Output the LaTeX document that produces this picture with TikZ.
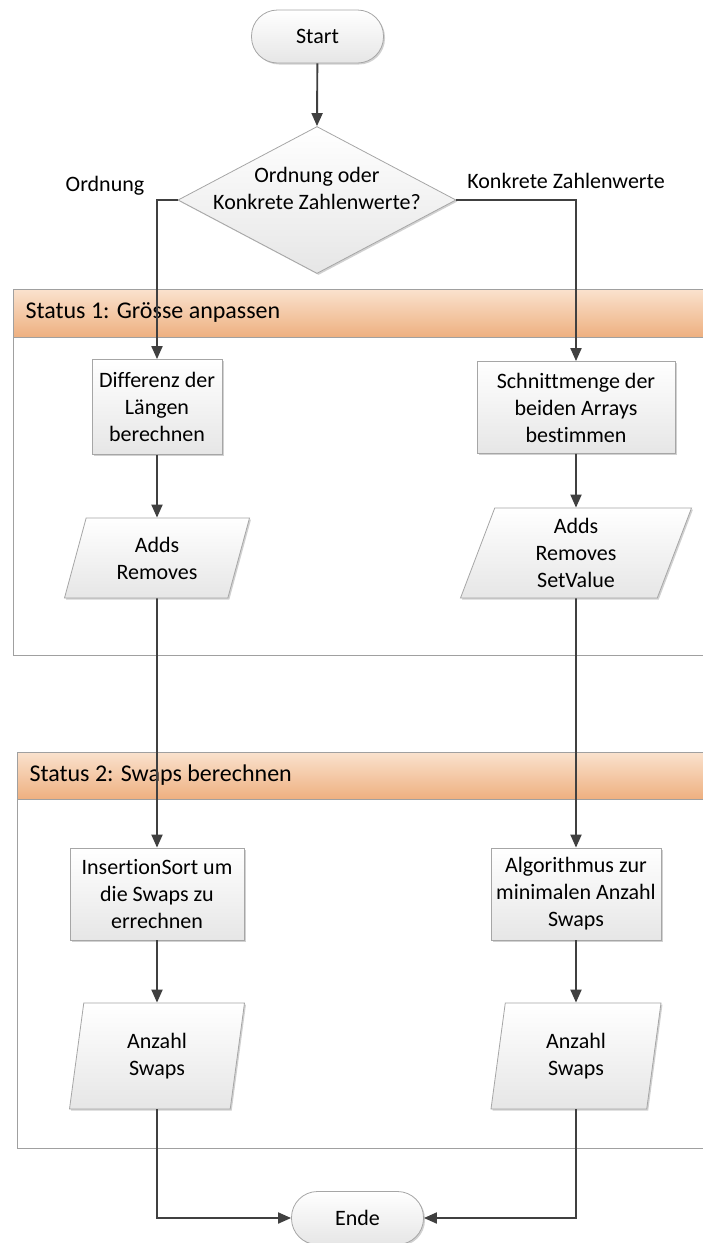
\documentclass[tikz,border=0pt]{standalone}
\usepackage{fontspec}
\setmainfont{Carlito}[Ligatures=NoCommon]
\usetikzlibrary{shapes.geometric,shadows,arrows.meta}
\definecolor{boxgray}{HTML}{A6A6A6}
\definecolor{boxbot}{HTML}{E6E6E6}
\definecolor{linegray}{HTML}{404040}
\definecolor{lanegray}{HTML}{A0A0A0}
\definecolor{headtop}{HTML}{FAE2CE}
\definecolor{headbot}{HTML}{EEB080}
\begin{document}
\begin{tikzpicture}[x=1pt,y=-1pt,
  font=\fontsize{22}{27}\selectfont,
  shade/.style={top color=white, bottom color=boxbot},
  shad/.style={drop shadow={shadow xshift=1.5pt, shadow yshift=-1.5pt, fill=black, opacity=0.18}},
  procbox/.style={draw=boxgray, line width=0.8pt, shade, shad, align=center, inner sep=3pt},
  term/.style={draw=boxgray, line width=0.8pt, shade, shad, rounded corners=26pt, minimum width=132pt, minimum height=53pt},
  iobox/.style={trapezium, trapezium stretches body, draw=boxgray, line width=0.8pt, shade, shad, align=center, inner sep=2pt},
  conn/.style={draw=linegray, line width=1.9pt, -{Triangle[length=13pt,width=11pt]}},
  lane/.style={draw=lanegray, line width=0.8pt, fill=white},
  lanehead/.style={draw=lanegray, line width=0.8pt, top color=headtop, bottom color=headbot},
  lanetext/.style={anchor=west, font=\fontsize{24}{28}\selectfont}
]
\useasboundingbox (0,0) rectangle (703,1243);
\clip (0,0) rectangle (703,1243);

% swimlanes
\draw[lane] (13,289) rectangle (712,655);
\draw[lanehead] (13,289) rectangle (712,337);
\node[lanetext] (lane1) at (22,312) {Status 1: Grösse anpassen};
\draw[lane] (17,752) rectangle (712,1148);
\draw[lanehead] (17,752) rectangle (712,799);
\node[lanetext] (lane2) at (26,775) {Status 2: Swaps berechnen};

% nodes
\node[term] (start) at (317.5,36.5) {Start};
\node[diamond, draw=boxgray, line width=0.8pt, shade, shad, minimum width=278pt, minimum height=147pt, inner sep=0pt] (dec) at (317,200) {};
\node[align=center] (dectext) at (317,188) {Ordnung oder\\Konkrete Zahlenwerte?};
\node (lord) at (105,186) {Ordnung};
\node (lkon) at (566,181) {Konkrete Zahlenwerte};

\node[procbox, minimum width=130pt, minimum height=95pt] (diff) at (157,407) {Differenz der\\Längen\\berechnen};
\node[procbox, minimum width=198pt, minimum height=92pt] (schnitt) at (576,407.5) {Schnittmenge der\\beiden Arrays\\bestimmen};

\node[iobox, trapezium left angle=65, trapezium right angle=115, minimum width=185pt, minimum height=80pt] (io1) at (157,558) {Adds\\Removes};
\node[iobox, trapezium left angle=65, trapezium right angle=115, minimum width=231pt, minimum height=90pt] (io2) at (576,553) {Adds\\Removes\\SetValue};

\node[procbox, minimum width=174pt, minimum height=92pt] (ins) at (157,894) {Insert\kern0pt ionSort um\\die Swaps zu\\errechnen};
\node[procbox, minimum width=170pt, minimum height=92pt] (alg) at (576,894) {Algorithmus zur\\minimalen Anzahl\\Swaps};

\node[iobox, trapezium left angle=74, trapezium right angle=106, minimum width=175pt, minimum height=106pt] (anz1) at (157,1056) {Anzahl\\Swaps};
\node[iobox, trapezium left angle=74, trapezium right angle=106, minimum width=170pt, minimum height=106pt] (anz2) at (576,1056) {Anzahl\\Swaps};

\node[term] (ende) at (357.5,1218) {Ende};

% connectors
\draw[conn] (start) -- (dec.north);
\draw[conn] (dec.west) -| (diff.north);
\draw[conn] (dec.east) -| (schnitt.north);
\draw[conn] (diff) -- (io1);
\draw[conn] (schnitt) -- (io2);
\draw[conn] (io1) -- (ins);
\draw[conn] (io2) -- (alg);
\draw[conn] (ins) -- (anz1);
\draw[conn] (alg) -- (anz2);
\draw[conn] (anz1.south) |- (ende.west);
\draw[conn] (anz2.south) |- (ende.east);
\end{tikzpicture}
\end{document}
